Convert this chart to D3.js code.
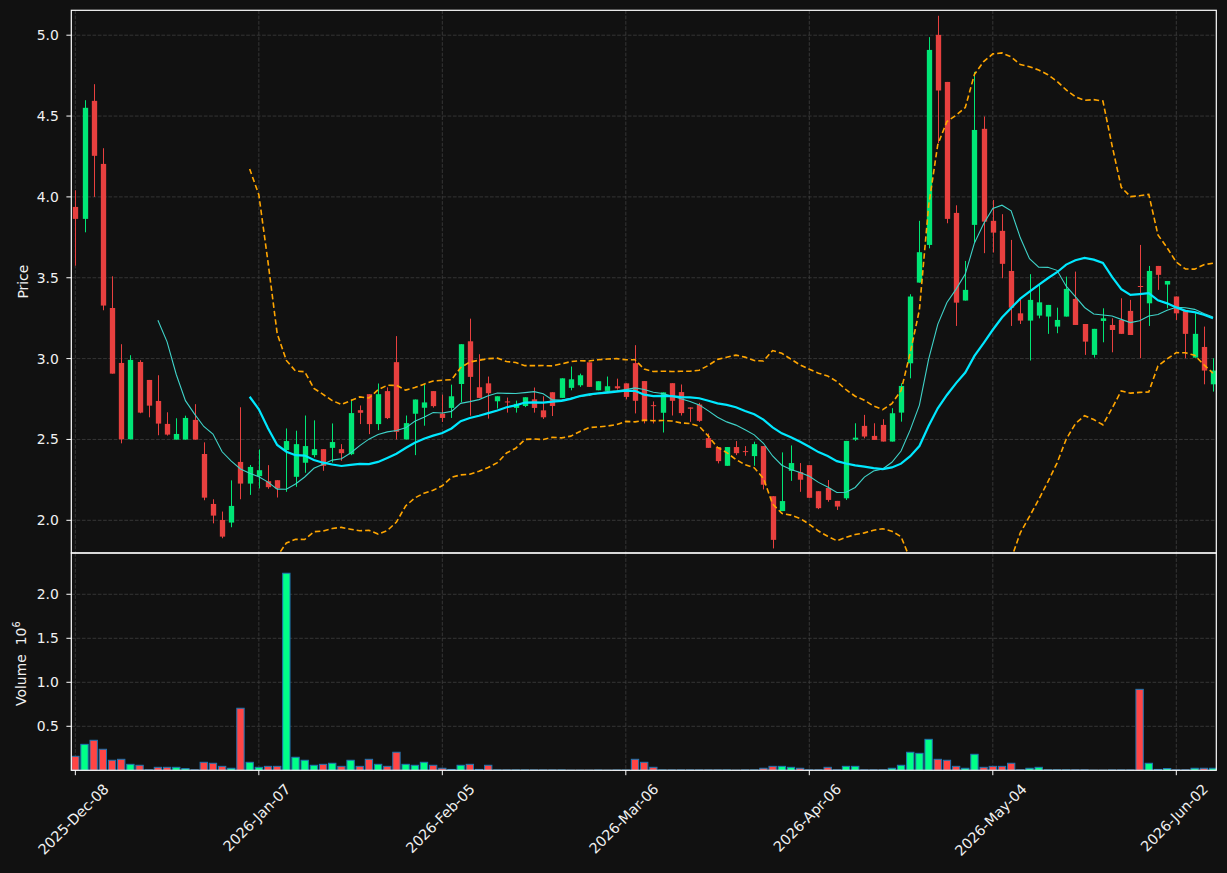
<!DOCTYPE html>
<html>
<head>
<meta charset="utf-8">
<script src="https://cdn.jsdelivr.net/npm/d3@7"></script>
<style>
  html, body { margin: 0; padding: 0; background: #111111; }
  svg { display: block; }
  text { font-family: "DejaVu Sans", sans-serif; fill: #f2f2f2; }
</style>
</head>
<body>
<svg id="chart" width="1227" height="873"></svg>
<script>
// ---- data ----
const tickIndex = [0, 20, 40, 60, 80, 100, 120];
const tickLabels = ["2025-Dec-08", "2026-Jan-07", "2026-Feb-05", "2026-Mar-06", "2026-Apr-06", "2026-May-04", "2026-Jun-02"];

const open = [3.938,3.864,4.594,4.204,3.313,2.973,2.501,2.979,2.868,2.738,
  2.596,2.499,2.499,2.621,2.410,2.101,2.002,1.986,2.361,2.227,
  2.273,2.242,2.248,2.434,2.269,2.356,2.403,2.440,2.448,2.440,
  2.409,2.681,2.780,2.595,2.799,2.978,2.500,2.659,2.696,2.799,
  2.660,2.695,2.843,3.107,2.823,2.847,2.736,2.735,2.695,2.707,
  2.748,2.680,2.792,2.757,2.819,2.835,2.977,2.804,2.800,2.829,
  2.847,2.972,2.861,2.712,2.665,2.848,2.793,2.698,2.716,2.508,
  2.453,2.337,2.453,2.428,2.397,2.459,2.149,2.057,2.306,2.298,
  2.341,2.180,2.200,2.120,2.136,2.499,2.584,2.522,2.590,2.487,
  2.666,2.971,3.470,3.703,5.002,4.711,3.901,3.359,3.827,4.421,
  3.852,3.790,3.542,3.280,3.235,3.266,3.260,3.198,3.260,3.369,
  3.214,3.023,3.233,3.208,3.239,3.295,3.449,3.342,3.573,3.458,
  3.384,3.301,3.006,3.072,2.841];
const high = [4.041,4.598,4.697,4.301,3.509,3.089,3.021,2.990,2.868,2.897,
  2.668,2.631,2.647,2.718,2.482,2.130,2.054,2.247,2.699,2.342,
  2.438,2.341,2.248,2.568,2.554,2.648,2.618,2.440,2.599,2.471,
  2.747,2.710,2.780,2.846,2.822,3.139,2.648,2.747,2.840,2.799,
  2.777,2.839,3.089,3.247,3.027,2.889,2.767,2.759,2.740,2.761,
  2.821,2.767,2.792,2.878,2.951,2.907,2.977,2.860,2.889,2.876,
  2.847,3.083,2.861,2.735,2.791,2.848,2.840,2.698,2.726,2.537,
  2.453,2.453,2.490,2.459,2.486,2.459,2.149,2.420,2.463,2.354,
  2.341,2.180,2.249,2.120,2.491,2.600,2.652,2.600,2.625,2.693,
  2.847,3.398,3.852,4.988,5.120,4.711,3.948,3.604,4.773,4.497,
  3.981,3.893,3.734,3.363,3.522,3.456,3.332,3.315,3.507,3.538,
  3.214,3.184,3.311,3.249,3.373,3.363,3.703,3.573,3.573,3.480,
  3.384,3.301,3.280,3.198,3.002];
const low = [3.575,3.781,4.000,3.299,2.907,2.476,2.501,2.662,2.637,2.526,
  2.524,2.499,2.499,2.499,2.124,1.981,1.889,1.957,2.130,2.157,
  2.197,2.195,2.141,2.176,2.207,2.294,2.389,2.306,2.358,2.368,
  2.403,2.595,2.533,2.558,2.626,2.500,2.500,2.403,2.585,2.697,
  2.608,2.633,2.730,2.647,2.757,2.629,2.691,2.666,2.666,2.700,
  2.666,2.627,2.645,2.757,2.804,2.825,2.825,2.804,2.800,2.808,
  2.748,2.661,2.599,2.599,2.543,2.648,2.648,2.609,2.609,2.448,
  2.352,2.337,2.403,2.399,2.337,2.191,1.826,2.057,2.244,2.176,
  2.139,2.069,2.115,2.064,2.126,2.491,2.507,2.497,2.487,2.487,
  2.610,2.878,3.470,3.682,4.332,3.837,3.202,3.359,3.718,3.652,
  3.656,3.497,3.202,3.214,2.988,3.249,3.153,3.157,3.260,3.208,
  3.023,3.006,3.101,3.039,3.153,3.146,3.002,3.202,3.425,3.311,
  3.239,3.002,3.006,2.841,2.796];
const close = [3.864,4.551,4.254,3.328,2.907,2.501,2.992,2.666,2.709,2.598,
  2.530,2.534,2.633,2.499,2.140,2.029,1.899,2.089,2.227,2.330,
  2.310,2.205,2.197,2.490,2.471,2.459,2.440,2.337,2.484,2.415,
  2.663,2.665,2.595,2.780,2.632,2.547,2.601,2.747,2.729,2.706,
  2.633,2.767,3.089,2.887,2.757,2.786,2.767,2.730,2.720,2.761,
  2.695,2.637,2.707,2.878,2.872,2.897,2.825,2.860,2.829,2.816,
  2.763,2.739,2.615,2.706,2.791,2.739,2.663,2.690,2.615,2.448,
  2.366,2.453,2.415,2.422,2.471,2.220,1.879,2.119,2.354,2.251,
  2.139,2.075,2.126,2.085,2.491,2.511,2.518,2.497,2.487,2.662,
  2.831,3.384,3.658,4.909,4.658,3.864,3.346,3.425,4.414,3.847,
  3.779,3.586,3.315,3.235,3.363,3.348,3.332,3.239,3.431,3.208,
  3.105,3.184,3.249,3.177,3.153,3.146,3.443,3.542,3.518,3.480,
  3.280,3.153,3.153,2.926,2.926];
// volume in millions
const volume = [0.159,0.295,0.341,0.239,0.114,0.125,0.068,0.057,0.005,0.034,
  0.034,0.034,0.019,0.005,0.091,0.080,0.045,0.023,0.705,0.091,
  0.034,0.045,0.045,2.239,0.148,0.114,0.057,0.068,0.080,0.045,
  0.114,0.045,0.125,0.068,0.045,0.205,0.068,0.057,0.091,0.057,
  0.023,0.010,0.057,0.068,0.010,0.057,0.004,0.004,0.004,0.004,
  0.004,0.004,0.004,0.004,0.001,0.001,0.001,0.003,0.001,0.003,
  0.003,0.125,0.091,0.034,0.004,0.004,0.004,0.004,0.004,0.004,
  0.004,0.004,0.001,0.004,0.004,0.023,0.045,0.045,0.034,0.023,
  0.005,0.005,0.034,0.005,0.045,0.045,0.005,0.005,0.005,0.023,
  0.057,0.205,0.193,0.352,0.125,0.114,0.045,0.023,0.182,0.034,
  0.045,0.045,0.080,0.005,0.023,0.034,0.005,0.005,0.005,0.005,
  0.005,0.001,0.001,0.004,0.004,0.004,0.920,0.080,0.010,0.020,
  0.005,0.005,0.023,0.023,0.023];

const maShort = 10, maLong = 20, bandStd = 2;
const priceTicks = [2.0, 2.5, 3.0, 3.5, 4.0, 4.5, 5.0];
const volTicks = [0.5, 1.0, 1.5, 2.0];

// ---- layout ----
const L = 71.3, R = 1216.3, T = 10.3, MID = 553, B = 770.3;
const upC = "#00e676", dnC = "#e8403f";
const upV = "#00ff88", dnV = "#ff4545";

const svg = d3.select("#chart");
svg.append("rect").attr("width", 1227).attr("height", 873).attr("fill", "#111111");

const x = d3.scaleLinear().domain([-0.44, 124.36]).range([L, R]);
const step = x(1) - x(0);
const yP = d3.scaleLinear().domain([2.0, 5.0]).range([520.3, 35.2]);
const yV = d3.scaleLinear().domain([0, 2.469]).range([B, MID]);

const defs = svg.append("defs");
defs.append("clipPath").attr("id", "clipP").append("rect")
  .attr("x", L).attr("y", T).attr("width", R - L).attr("height", MID - T);
defs.append("clipPath").attr("id", "clipV").append("rect")
  .attr("x", L).attr("y", MID).attr("width", R - L).attr("height", B - MID);

const gridStyle = g => g.attr("stroke", "#3f3f3f").attr("stroke-width", 0.8)
  .attr("stroke-dasharray", "3.7,1.6");

// grids
const grid = svg.append("g");
priceTicks.forEach(v => grid.append("line").attr("x1", L).attr("x2", R)
  .attr("y1", yP(v)).attr("y2", yP(v)).call(gridStyle));
volTicks.forEach(v => grid.append("line").attr("x1", L).attr("x2", R)
  .attr("y1", yV(v)).attr("y2", yV(v)).call(gridStyle));
tickIndex.forEach(i => {
  grid.append("line").attr("x1", x(i)).attr("x2", x(i)).attr("y1", T).attr("y2", MID).call(gridStyle);
  grid.append("line").attr("x1", x(i)).attr("x2", x(i)).attr("y1", MID).attr("y2", B).call(gridStyle);
});

const idx = d3.range(close.length);

// candles
const cg = svg.append("g").attr("clip-path", "url(#clipP)");
const bw = step * 0.58;
idx.forEach(i => {
  const up = close[i] >= open[i];
  const col = up ? upC : dnC;
  const cx = Math.round(x(i)) + 0.5;
  cg.append("line").attr("x1", cx).attr("x2", cx)
    .attr("y1", yP(high[i])).attr("y2", yP(low[i]))
    .attr("stroke", col).attr("stroke-width", 1);
  const top = yP(Math.max(open[i], close[i]));
  const bot = yP(Math.min(open[i], close[i]));
  cg.append("rect").attr("x", cx - bw / 2).attr("width", bw)
    .attr("y", top).attr("height", Math.max(1, bot - top)).attr("fill", col);
});

// moving averages and bands (derived from the close series)
function rolling(n) {
  return idx.map(i => {
    if (i < n - 1) return null;
    const w = close.slice(i - n + 1, i + 1);
    const m = d3.mean(w);
    const sd = Math.sqrt(d3.mean(w.map(v => (v - m) * (v - m))));
    return { i, m, sd };
  }).filter(d => d);
}
const ma10 = rolling(maShort);
const ma20 = rolling(maLong);

const lg = svg.append("g").attr("clip-path", "url(#clipP)");
const line = acc => d3.line().x(d => x(d.i)).y(acc);
lg.append("path").datum(ma20).attr("d", line(d => yP(d.m + bandStd * d.sd)))
  .attr("fill", "none").attr("stroke", "#ffa500").attr("stroke-width", 1.6).attr("stroke-dasharray", "5.5,3");
lg.append("path").datum(ma20).attr("d", line(d => yP(d.m - bandStd * d.sd)))
  .attr("fill", "none").attr("stroke", "#ffa500").attr("stroke-width", 1.6).attr("stroke-dasharray", "5.5,3");
lg.append("path").datum(ma10).attr("d", line(d => yP(d.m)))
  .attr("fill", "none").attr("stroke", "#3fd2c8").attr("stroke-width", 1.1);
lg.append("path").datum(ma20).attr("d", line(d => yP(d.m)))
  .attr("fill", "none").attr("stroke", "#00e8ff").attr("stroke-width", 2.2);

// volume bars
const vg = svg.append("g").attr("clip-path", "url(#clipV)");
const vw = step * 0.8;
idx.forEach(i => {
  const up = close[i] >= open[i];
  const top = yV(volume[i]);
  vg.append("rect").attr("x", x(i) - vw / 2).attr("width", vw)
    .attr("y", top).attr("height", B - top)
    .attr("fill", up ? upV : dnV).attr("stroke", "#1f77b4").attr("stroke-width", 1);
});

// frames
const spine = { stroke: "#ffffff", "stroke-width": 1.2, fill: "none" };
const fr = (x0, y0, w, h) => { const r = svg.append("rect").attr("x", x0).attr("y", y0).attr("width", w).attr("height", h);
  Object.entries(spine).forEach(([k, v]) => r.attr(k, v)); };
fr(L, T, R - L, MID - T);
fr(L, MID, R - L, B - MID);

// y axes
const ax = svg.append("g");
priceTicks.forEach(v => {
  ax.append("line").attr("x1", L - 4.9).attr("x2", L).attr("y1", yP(v)).attr("y2", yP(v)).attr("stroke", "#fff").attr("stroke-width", 1);
  ax.append("text").attr("x", L - 12.5).attr("y", yP(v)).attr("dy", "0.36em").attr("text-anchor", "end")
    .attr("font-size", 13.9).text(v.toFixed(1));
});
volTicks.forEach(v => {
  ax.append("line").attr("x1", L - 4.9).attr("x2", L).attr("y1", yV(v)).attr("y2", yV(v)).attr("stroke", "#fff").attr("stroke-width", 1);
  ax.append("text").attr("x", L - 12.5).attr("y", yV(v)).attr("dy", "0.36em").attr("text-anchor", "end")
    .attr("font-size", 13.9).text(v.toFixed(1));
});
ax.append("text").attr("transform", `translate(27.5,${(T + MID) / 2}) rotate(-90)`)
  .attr("text-anchor", "middle").attr("font-size", 13.9).text("Price");
const vt = ax.append("text").attr("transform", `translate(25.5,${(MID + B) / 2 + 2}) rotate(-90)`)
  .attr("text-anchor", "middle").attr("font-size", 13.9);
vt.append("tspan").text("Volume");
vt.append("tspan").attr("dx", 9).text("10");
vt.append("tspan").attr("font-size", 9.7).attr("dy", -6).text("6");

// x axis
tickIndex.forEach((ti, k) => {
  ax.append("line").attr("x1", x(ti)).attr("x2", x(ti)).attr("y1", B).attr("y2", B + 4.9).attr("stroke", "#fff").attr("stroke-width", 1);
  const t = ax.append("text").attr("font-size", 14.3).attr("text-anchor", "middle")
    .attr("dominant-baseline", "central").text(tickLabels[k]);
  const len = t.node().getComputedTextLength();
  const h = 14.3 * 1.05;
  const half = (len + h) * Math.SQRT1_2 / 2;
  t.attr("transform", `translate(${x(ti) - 2},${B + 11 + half}) rotate(-45)`);
});
</script>
</body>
</html>
